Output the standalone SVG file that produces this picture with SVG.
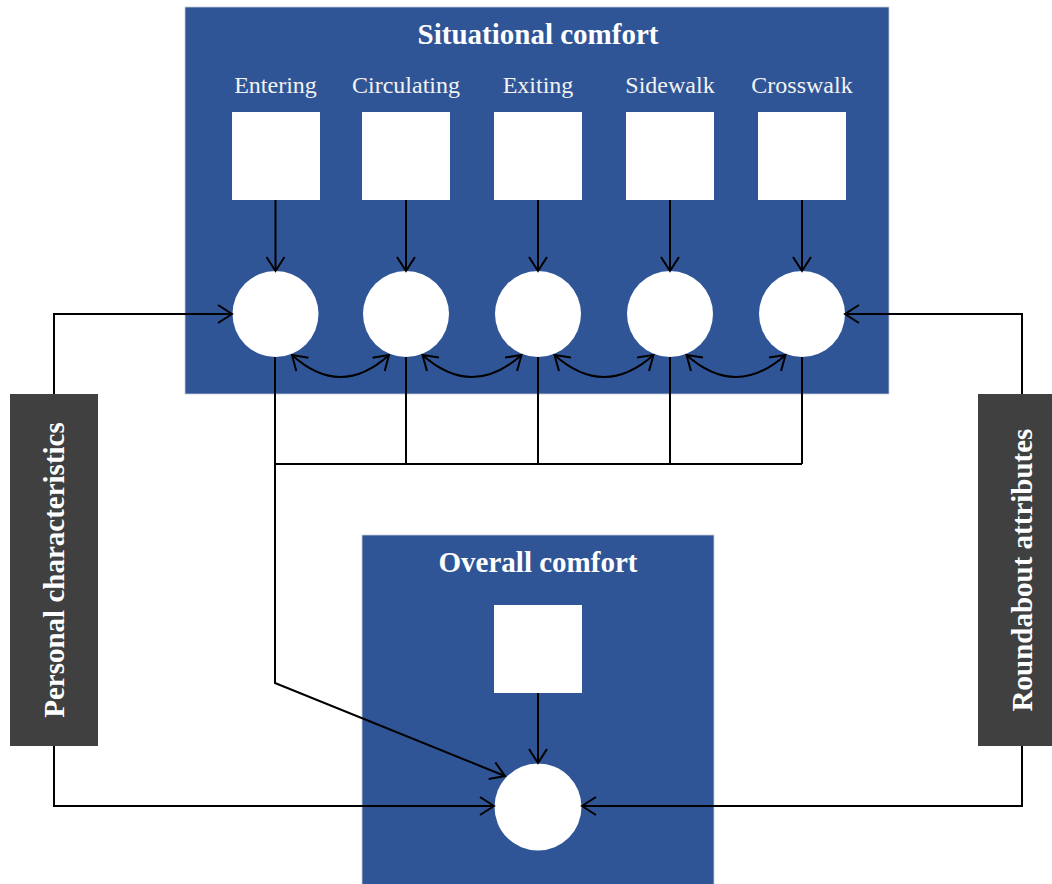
<svg xmlns="http://www.w3.org/2000/svg" width="1052" height="884" viewBox="0 0 1052 884">
<style>
.panel{fill:#2F5597;stroke:#C9CED8;stroke-width:0.8}
.side{fill:#404040}
.box{fill:#FFFFFF}
.title{font-family:"Liberation Serif",serif;font-weight:bold;font-size:29px;fill:#FFFFFF;text-anchor:middle}
.lbl{font-family:"Liberation Serif",serif;font-size:24px;fill:#F2F2F2;text-anchor:middle}
.conn{fill:none;stroke:#000;stroke-width:2}
.arr{marker-end:url(#ah)}
.dbl{marker-start:url(#ah);marker-end:url(#ah)}
</style>
<defs>
<marker id="ah" viewBox="0 0 17 20" refX="15" refY="10" markerWidth="17" markerHeight="20" markerUnits="userSpaceOnUse" orient="auto-start-reverse">
<path d="M1,1 L15,10 L1,19" fill="none" stroke="#000" stroke-width="2"/>
</marker>
</defs>
<rect width="1052" height="884" fill="#FFFFFF"/>
<g id="situational">
<rect class="panel" x="185" y="7" width="704" height="387"/>
<text class="title" x="538" y="44">Situational comfort</text>
</g>
<g id="overall">
<rect class="panel" x="362" y="535" width="352" height="360"/>
<text class="title" x="538" y="572">Overall comfort</text>
</g>
<g id="entering">
<text class="lbl" x="275.5" y="93">Entering</text>
<rect class="box" x="232" y="112" width="88" height="88"/>
<circle class="box" cx="275.5" cy="314" r="43"/>
</g>
<g id="circulating">
<text class="lbl" x="406" y="93">Circulating</text>
<rect class="box" x="362" y="112" width="88" height="88"/>
<circle class="box" cx="406" cy="314" r="43"/>
</g>
<g id="exiting">
<text class="lbl" x="538" y="93">Exiting</text>
<rect class="box" x="494" y="112" width="88" height="88"/>
<circle class="box" cx="538" cy="314" r="43"/>
</g>
<g id="sidewalk">
<text class="lbl" x="670" y="93">Sidewalk</text>
<rect class="box" x="626" y="112" width="88" height="88"/>
<circle class="box" cx="670" cy="314" r="43"/>
</g>
<g id="crosswalk">
<text class="lbl" x="802" y="93">Crosswalk</text>
<rect class="box" x="758" y="112" width="88" height="88"/>
<circle class="box" cx="802" cy="314" r="43"/>
</g>
<g id="overall-items">
<rect class="box" x="494" y="605" width="88" height="88"/>
<circle class="box" cx="538" cy="807" r="43.5"/>
</g>
<g id="personal">
<rect class="side" x="10" y="394" width="88" height="352"/>
<text class="title" transform="translate(54,570) rotate(-90)" dominant-baseline="central">Personal characteristics</text>
</g>
<g id="roundabout">
<rect class="side" x="978" y="394" width="88" height="352"/>
<text class="title" transform="translate(1022,570) rotate(-90)" dominant-baseline="central">Roundabout attributes</text>
</g>
<g id="connectors">
<path class="conn arr" d="M275.5,200 V271"/>
<path class="conn arr" d="M406,200 V271"/>
<path class="conn arr" d="M538,200 V271"/>
<path class="conn arr" d="M670,200 V271"/>
<path class="conn arr" d="M802,200 V271"/>
<path class="conn dbl" d="M292,355 Q340.5,399 389,355"/>
<path class="conn dbl" d="M422.5,355 Q472,399 521.5,355"/>
<path class="conn dbl" d="M554.5,355 Q604,399 653.5,355"/>
<path class="conn dbl" d="M686.5,355 Q736,399 785.5,355"/>
<path class="conn" d="M406,357 V464 M538,357 V464 M670,357 V464 M802,357 V464 M275,464 H802"/>
<path class="conn arr" d="M275,357 V683 L505,776"/>
<path class="conn arr" d="M54,394 V314 H232"/>
<path class="conn arr" d="M54,746 V806 H494"/>
<path class="conn arr" d="M1022,394 V314 H845"/>
<path class="conn arr" d="M1022,746 V806 H582"/>
<path class="conn arr" d="M538,693 V763"/>
</g>
</svg>
